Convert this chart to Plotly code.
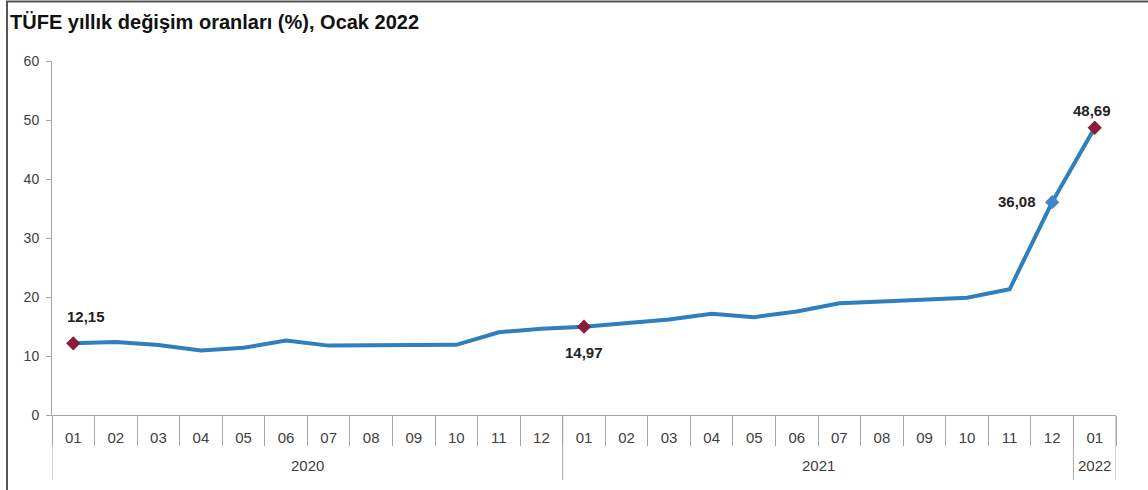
import plotly.graph_objects as go

years = ["2020", "2021", "2022"]
year_counts = [12, 12, 1]
months = ["01", "02", "03", "04", "05", "06", "07", "08", "09", "10", "11", "12",
          "01", "02", "03", "04", "05", "06", "07", "08", "09", "10", "11", "12", "01"]
tufe = [12.15, 12.37, 11.86, 10.94, 11.39, 12.62, 11.76, 11.77, 11.75, 11.89, 14.03, 14.60,
        14.97, 15.61, 16.19, 17.14, 16.59, 17.53, 18.95, 19.25, 19.58, 19.89, 21.31, 36.08,
        48.69]
highlight_idx = [0, 12, 23, 24]
highlight_labels = ["12,15", "14,97", "36,08", "48,69"]
highlight_colors = ["#8B1C3C", "#8B1C3C", "#3F86C6", "#8B1C3C"]
label_shift = [(13, 27), (0, -26), (-35, 1), (-3, 17)]
yticks = [0, 10, 20, 30, 40, 50, 60]

FONT = "Liberation Sans, Arial, sans-serif"
GRID = "#A6A6A6"
x = list(range(len(months)))

fig = go.Figure()
fig.add_trace(go.Scatter(
    x=x, y=tufe, mode="lines",
    line=dict(color="#2F7EBD", width=4), hoverinfo="skip", showlegend=False))
fig.add_trace(go.Scatter(
    x=highlight_idx, y=[tufe[i] for i in highlight_idx],
    mode="markers",
    marker=dict(symbol="diamond", size=11, color=highlight_colors),
    showlegend=False))
# boundary ticks axis (invisible trace to activate it)
fig.add_trace(go.Scatter(x=[-0.5, 24.5], y=[0, 0], xaxis="x2", mode="markers",
                         marker=dict(opacity=0), hoverinfo="skip", showlegend=False))

PH = 490 - 61 - 75  # plot height px
PW = 1148 - 52 - 32

shapes = []
b = -0.5
bounds = [b]
for c in year_counts:
    b += c
    bounds.append(b)
for bx in bounds:
    shapes.append(dict(type="line", xref="x", yref="paper", x0=bx, x1=bx,
                       y0=0, y1=-65 / PH, line=dict(color=GRID, width=1)))
# outer frame (top and left edges)
shapes.append(dict(type="line", xref="paper", yref="paper",
                   x0=(6 - 52) / PW, x1=(1148 - 52) / PW + 0.01,
                   y0=(415 - 1.5) / PH, y1=(415 - 1.5) / PH,
                   line=dict(color="#555555", width=2)))
shapes.append(dict(type="line", xref="paper", yref="paper",
                   x0=(7 - 52) / PW, x1=(7 - 52) / PW,
                   y0=(415 - 492) / PH, y1=(415 - 1) / PH,
                   line=dict(color="#555555", width=2)))

annotations = []
for i, lab, (dx, dy) in zip(highlight_idx, highlight_labels, label_shift):
    annotations.append(dict(x=i, y=tufe[i], xref="x", yref="y", text="<b>" + lab + "</b>",
                            showarrow=False, xshift=dx, yshift=dy,
                            font=dict(family=FONT, size=15, color="#222222")))
start = 0
for yr, c in zip(years, year_counts):
    annotations.append(dict(x=start + (c - 1) / 2, y=-(465 - 415) / PH, xref="x", yref="paper",
                            text=yr, showarrow=False, yanchor="middle",
                            font=dict(family=FONT, size=15, color="#404040")))
    start += c
annotations.append(dict(x=(8 - 52) / PW, y=(415 - 22) / PH, xref="paper", yref="paper",
                        text="<b>TÜFE yıllık değişim oranları (%), Ocak 2022</b>",
                        showarrow=False, xanchor="left", yanchor="middle",
                        font=dict(family=FONT, size=20, color="#111111")))

fig.update_layout(
    width=1148, height=490,
    margin=dict(l=52, r=32, t=61, b=75, autoexpand=False),
    paper_bgcolor="white", plot_bgcolor="white",
    font=dict(family=FONT, size=15, color="#404040"),
    xaxis=dict(range=[-0.5, 24.5], tickvals=x, ticktext=months, showline=True,
               linecolor=GRID, linewidth=1, ticks="", ticklabelstandoff=9,
               showgrid=False, zeroline=False, automargin=False,
               tickfont=dict(family=FONT, size=15, color="#404040")),
    xaxis2=dict(range=[-0.5, 24.5], overlaying="x", anchor="y", side="bottom",
                tickvals=[i - 0.5 for i in range(26)], showticklabels=False,
                ticks="outside", ticklen=30, tickcolor=GRID, tickwidth=1,
                showline=False, showgrid=False, zeroline=False, automargin=False),
    yaxis=dict(range=[0, 60], tickvals=yticks, showline=True,
               linecolor=GRID, linewidth=1, ticks="outside", ticklen=5,
               tickcolor=GRID, showgrid=False, zeroline=False, automargin=False,
               ticklabelstandoff=4,
               tickfont=dict(family=FONT, size=14, color="#404040")),
    shapes=shapes,
    annotations=annotations,
)
fig.write_html("out.html", config={"displayModeBar": False},
               post_script="document.body.style.margin='0';document.body.style.overflow='hidden';")
